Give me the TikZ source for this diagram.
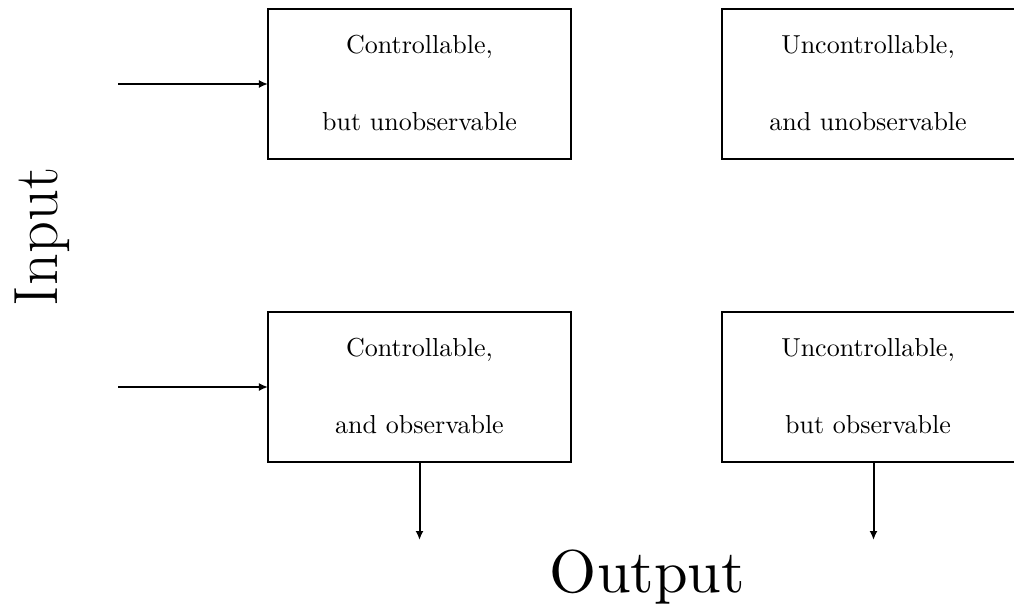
\documentclass[tikz,border=0pt]{standalone}
\usepackage{fontspec}
\newfontfamily\lmten{lmroman10-regular.otf}
\usetikzlibrary{arrows.meta}
\begin{document}
\begin{tikzpicture}[x=0.4pt,y=-0.4pt,
  box/.style={draw,line width=0.8pt,minimum width=121.2pt,minimum height=60pt,inner sep=0pt,outer sep=0pt},
  lbl/.style={anchor=base,inner sep=0pt,font=\fontsize{10.4}{12}\selectfont},
  arr/.style={line width=0.8pt,-{Latex[length=3.6pt,width=3.2pt]}},
  big/.style={anchor=base,inner sep=0pt}]
\useasboundingbox (0,0) rectangle (1014,607);
\clip (0,0) rectangle (1014,607);
\node[box] (cu) at (419.5,84) {};
\node[box] (uu) at (873.5,84) {};
\node[box] (co) at (419.5,387) {};
\node[box] (uo) at (873.5,387) {};
\node[lbl] (cu1) at (419.5,53.5) {Controllable,};
\node[lbl] (cu2) at (419.5,130.5) {but unobservable};
\node[lbl] (uu1) at (868,53.5) {Uncontrollable,};
\node[lbl] (uu2) at (868,130.5) {and unobservable};
\node[lbl] (co1) at (419.5,356.5) {Controllable,};
\node[lbl] (co2) at (419.5,433.5) {and observable};
\node[lbl] (uo1) at (868,356.5) {Uncontrollable,};
\node[lbl] (uo2) at (868,433.5) {but observable};
\coordinate (in1) at (118,84);
\coordinate (in2) at (118,387);
\coordinate (out1) at (419.5,540);
\coordinate (out2) at (873.5,540);
\draw[arr] (in1) -- (cu.west);
\draw[arr] (in2) -- (co.west);
\draw[arr] (co.south) -- (out1);
\draw[arr] (uo.south) -- (out2);
\node[big,rotate=90,font=\fontsize{25}{30}\selectfont] (input) at (58,237) {Input};
\node[big,font=\lmten\fontsize{24.2}{28}\selectfont] (output) at (647.5,592) {Output};
\end{tikzpicture}
\end{document}
